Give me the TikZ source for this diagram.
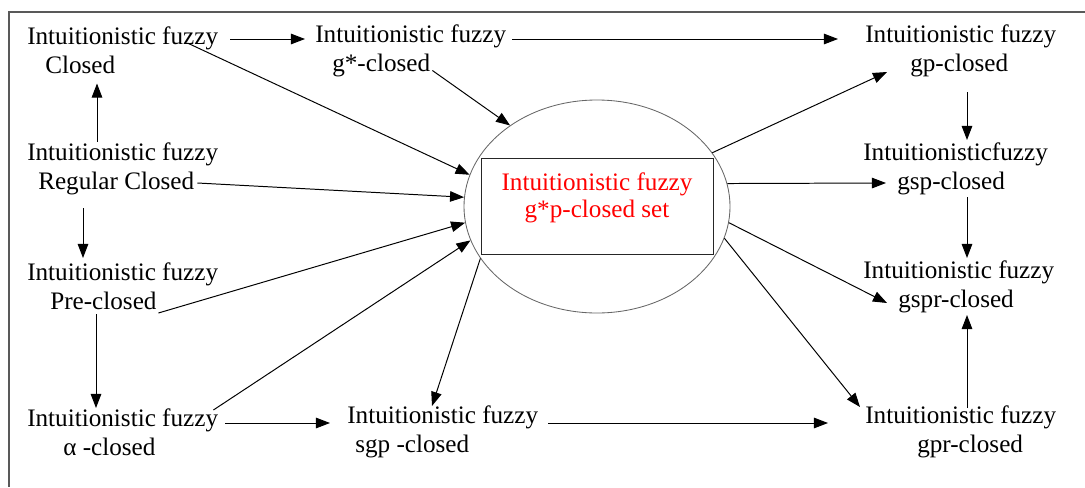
\documentclass[tikz,border=0pt]{standalone}
\usepackage{fontspec}
\setmainfont{Liberation Serif}
\usetikzlibrary{arrows.meta,shapes.geometric,calc}
\newlength{\pxlen}\setlength{\pxlen}{0.025cm}
\begin{document}
\begin{tikzpicture}[x=0.025cm,y=-0.025cm,
  lbl/.style={anchor=west,inner sep=0pt,align=left,font=\fontsize{17.9}{20.6}\selectfont},
  arr/.style={-{Triangle[length=10pt,width=7.5pt]},line width=0.7pt}]
\useasboundingbox (0,0) rectangle (1085,487);
\draw[gray!70!black,line width=0.9pt] (1085,12) -- (9,12) -- (9,487);
% left column
\node[lbl] (cl) at (27,50.5) {Intuitionistic fuzzy\\\hspace*{18\pxlen}Closed};
\node[lbl] (rc) at (27,168.5) {Intuitionistic fuzzy\\\hspace*{11\pxlen}Regular Closed};
\node[lbl] (pc) at (27,286.5) {Intuitionistic fuzzy\\\hspace*{23\pxlen}Pre-closed};
\node[lbl] (ac) at (27,432) {Intuitionistic fuzzy\\\hspace*{36\pxlen}α -closed};
% middle
\node[lbl] (gs) at (315,50.5) {Intuitionistic fuzzy\\\hspace*{17\pxlen}g*-closed};
\node[lbl] (sgp) at (347,432) {Intuitionistic fuzzy\\\hspace*{8\pxlen}sgp -closed};
\node[draw=gray!80!black,line width=0.6pt,ellipse,minimum width=266\pxlen,minimum height=213\pxlen,inner sep=0pt] (ring) at (597,206.5) {};
\node[draw=black!85,line width=0.7pt,minimum width=232\pxlen,minimum height=96\pxlen,inner sep=0pt] (core) at (ring.center) {};
\node[inner sep=0pt,align=center,text=red,font=\fontsize{17.9}{19.2}\selectfont] (coretxt) at ($(core.center)+(0,-9)$) {Intuitionistic fuzzy\\g*p-closed set};
% right column
\node[lbl] (gp) at (865,50.5) {Intuitionistic fuzzy\\\hspace*{45\pxlen}gp-closed};
\node[lbl] (gsp) at (863,168.5) {Intuitionisticfuzzy\\\hspace*{34\pxlen}gsp-closed};
\node[lbl] (gspr) at (863,286.5) {Intuitionistic fuzzy\\\hspace*{35\pxlen}gspr-closed};
\node[lbl] (gpr) at (865,432) {Intuitionistic fuzzy\\\hspace*{52\pxlen}gpr-closed};
% chains along the sides
\draw[arr] ($(cl.east)+(12,-11.5)$) -- ($(gs.west)+(-10,-11.5)$);
\draw[arr] ($(gs.east)+(6,-11.5)$) -- ($(gp.west)+(-27,-11.5)$);
\draw[arr] ($(ac.east)+(7,-9)$) -- ($(sgp.west)+(-17,-9)$);
\draw[arr] ($(sgp.east)+(10,-9)$) -- ($(gpr.west)+(-37,-9)$);
\draw[arr] ($(rc.west)+(70,-27)$) -- ($(cl.west)+(70,33)$);
\draw[arr] ($(rc.west)+(56,39.5)$) -- ($(pc.west)+(56,-28.5)$);
\draw[arr] ($(pc.west)+(69,27.5)$) -- ($(ac.west)+(69,-24)$);
\draw[arr] ($(gp.west)+(102,41.5)$) -- ($(gsp.west)+(104,-28.5)$);
\draw[arr] ($(gsp.west)+(104,28.5)$) -- ($(gspr.west)+(104,-28.5)$);
\draw[arr] ($(gpr.west)+(102,-24)$) -- ($(gspr.west)+(104,28.5)$);
% into the ellipse
\draw[arr] ($(cl.east)+(-31,-7.5)$) -- (ring.166);
\draw[arr] ($(gs.east)+(-74,20)$) -- (ring.137);
\draw[arr] ($(rc.east)+(-21,14.5)$) -- (ring.176);
\draw[arr] ($(pc.east)+(-60,26.5)$) -- (ring.187);
\draw[arr] ($(ac.east)+(-5,-22)$) -- (ring.195.5);
% out of the ellipse
\draw[arr] (ring.204) -- ($(sgp.west)+(85,-26)$);
\draw[arr] (ring.25) -- ($(gp.west)+(22,21.5)$);
\draw[arr] (ring.10) -- ($(gsp.west)+(23,14.5)$);
\draw[arr] (ring.353.4) -- ($(gspr.west)+(24,16.5)$);
\draw[arr] (ring.346.7) -- ($(gpr.west)+(-5,-25)$);
\end{tikzpicture}
\end{document}
